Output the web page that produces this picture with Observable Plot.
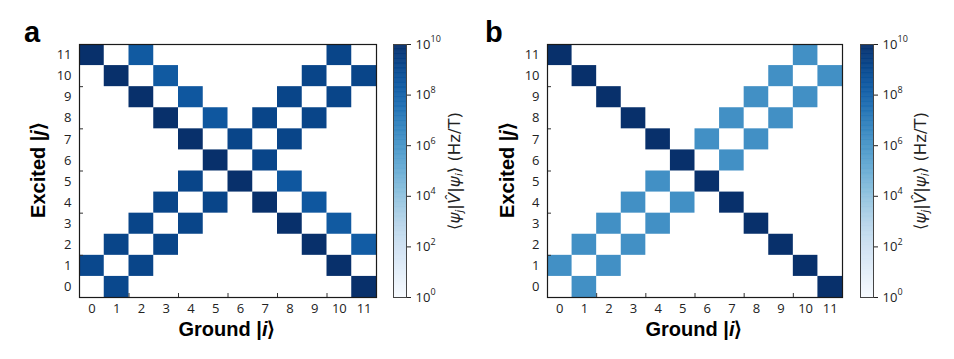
<!DOCTYPE html>
<html><head><meta charset="utf-8">
<script src="https://cdn.jsdelivr.net/npm/d3@7"></script>
<script src="https://cdn.jsdelivr.net/npm/@observablehq/plot@0.6"></script>
<style>
body{margin:0;background:#fff;}
#wrap{position:relative;width:954px;height:359px;overflow:hidden;background:#fff;}
#wrap > svg{position:absolute;top:0;}
</style></head><body><div id="wrap"></div>
<script>
// ---- data ----
const stateTicks = [0,1,2,3,4,5,6,7,8,9,10,11];
const stateLabels = ["0","1","2","3","4","5","6","7","8","9","10","11"];
const boundaryTicks = [1.5,3.5,5.5,7.5,9.5];
const colorbarTicks = [1e0,1e2,1e4,1e6,1e8,1e10];

// panel a: ground |i>, excited |j>, log10 of matrix element (Hz/T)
const aGround  = [0,2,10, 1,3,9,11, 2,4,8,10, 3,5,7,9, 4,6,8, 5,7, 4,6,8, 3,5,7,9, 2,4,8,10, 1,3,9,11, 0,2,10, 1,11];
const aExcited = [11,11,11, 10,10,10,10, 9,9,9,9, 8,8,8,8, 7,7,7, 6,6, 5,5,5, 4,4,4,4, 3,3,3,3, 2,2,2,2, 1,1,1, 0,0];
const aLog     = [10,8.4,9.2, 10,8.4,9.2,9.2, 10,8.5,9.2,9.2, 10,8.5,9.2,9.2, 10,9.2,9.2, 10,9.2, 9.2,10,8.5, 9.2,9.2,10,8.5, 9.2,9.2,10,8.4, 9.2,9.2,10,8.3, 9.1,9.2,10, 9.1,10];

// panel b
const bGround  = [0,10, 1,9,11, 2,8,10, 3,7,9, 4,6,8, 5,7, 4,6, 3,5,7, 2,4,8, 1,3,9, 0,2,10, 1,11];
const bExcited = [11,11, 10,10,10, 9,9,9, 8,8,8, 7,7,7, 6,6, 5,5, 4,4,4, 3,3,3, 2,2,2, 1,1,1, 0,0];
const bLog     = [10,6.3, 10,6.3,6.3, 10,6.3,6.3, 10,6.3,6.3, 10,6.3,6.3, 10,6.3, 6.3,10, 6.3,6.3,10, 6.3,6.3,10, 6.3,6.3,10, 6.3,6.3,10, 6.3,10];

const colorScale = {type: "log", domain: [1, 1e10], scheme: "blues"};
const wrap = document.getElementById("wrap");

function heatmap(ground, excited, logs, left, width, marginLeft, marginRight) {
  const data = ground.map((g, k) => ({i: g, j: excited[k], v: Math.pow(10, logs[k])}));
  const svg = Plot.plot({
    width, height: 359,
    marginLeft, marginRight, marginTop: 44, marginBottom: 62,
    style: {fontFamily: "'Open Sans', sans-serif", fontSize: "13px", color: "#222", background: "transparent"},
    x: {domain: [-0.5, 11.5], label: null},
    y: {domain: [-0.5, 11.5], label: null},
    color: colorScale,
    marks: [
      Plot.rect(data, {x1: d => d.i - 0.5, x2: d => d.i + 0.5, y1: d => d.j - 0.5, y2: d => d.j + 0.5, fill: "v"}),
      Plot.axisX(stateTicks, {tickSize: 0, tickPadding: 6, tickFormat: d => stateLabels[d], fontSize: 13}),
      Plot.axisY(stateTicks, {tickSize: 0, tickPadding: 8, tickFormat: d => stateLabels[d], fontSize: 13}),
      Plot.axisX(boundaryTicks, {tickSize: 4, dy: -4, tickFormat: () => "", stroke: "#333"}),
      Plot.axisY(boundaryTicks, {tickSize: 4, dx: 4, tickFormat: () => "", stroke: "#333"}),
      Plot.frame({stroke: "#1a1a1a", strokeWidth: 1.2})
    ]
  });
  svg.style.left = left + "px";
  wrap.appendChild(svg);
}

function colorbar(left, width) {
  const steps = d3.range(0, 10, 0.05);
  const svg = Plot.plot({
    width, height: 359,
    marginLeft: 13, marginRight: width - 26, marginTop: 44, marginBottom: 62,
    style: {fontFamily: "'Open Sans', sans-serif", color: "#222", background: "transparent", overflow: "visible"},
    x: {domain: [0, 1], axis: null},
    y: {type: "log", domain: [1, 1e10], axis: null},
    color: colorScale,
    marks: [
      Plot.rect(steps, {x1: 0, x2: 1, y1: e => Math.pow(10, e), y2: e => Math.pow(10, e + 0.05),
        fill: e => Math.pow(10, e + 0.025), stroke: e => Math.pow(10, e + 0.025), strokeWidth: 0.6, clip: true}),
      Plot.axisY(colorbarTicks, {anchor: "right", tickSize: 4, tickFormat: () => "", stroke: "#222"}),
      Plot.text(colorbarTicks, {x: 1, y: d => d, text: () => "10", dx: 9, textAnchor: "start", fontSize: 13, fill: "#222"}),
      Plot.text(colorbarTicks, {x: 1, y: d => d, text: d => String(Math.round(Math.log10(d))), dx: 24, dy: -5, textAnchor: "start", fontSize: 9, fill: "#222"}),
      Plot.frame({stroke: "#444", strokeWidth: 1})
    ]
  });
  svg.style.left = left + "px";
  wrap.appendChild(svg);
}

heatmap(aGround, aExcited, aLog, 0, 380, 79, 4);
colorbar(380, 100);
heatmap(bGround, bExcited, bLog, 480, 366, 67, 4);
colorbar(847, 107);

// ---- titles / labels overlay ----
const ov = d3.select(wrap).append("svg").attr("width", 954).attr("height", 359)
  .style("left", "0px").style("pointer-events", "none");
const bold = "'Liberation Sans', Arial, sans-serif";

function panelLabel(x, t) {
  ov.append("text").attr("x", x).attr("y", 42).attr("font-family", bold).attr("font-weight", "bold")
    .attr("font-size", 29).attr("fill", "#000").text(t);
}
panelLabel(24, "a");
panelLabel(485, "b");

function xTitle(cx) {
  const t = ov.append("text").attr("x", cx).attr("y", 336).attr("text-anchor", "middle")
    .attr("font-family", bold).attr("font-weight", "bold").attr("font-size", 20).attr("fill", "#000");
  t.append("tspan").text("Ground |");
  t.append("tspan").attr("font-style", "italic").text("i");
  t.append("tspan").text("⟩");
}
function yTitle(bx) {
  const t = ov.append("text").attr("transform", `translate(${bx},170) rotate(-90)`).attr("text-anchor", "middle")
    .attr("font-family", bold).attr("font-weight", "bold").attr("font-size", 20).attr("fill", "#000");
  t.append("tspan").text("Excited |");
  t.append("tspan").attr("font-style", "italic").text("j");
  t.append("tspan").text("⟩");
}
function cbTitle(bx) {
  const t = ov.append("text").attr("transform", `translate(${bx},171) rotate(-90)`).attr("text-anchor", "middle")
    .attr("font-family", "'DejaVu Sans', sans-serif").attr("font-size", 16.5).attr("fill", "#222");
  t.append("tspan").text("⟨");
  t.append("tspan").attr("font-style", "italic").text("ψ");
  t.append("tspan").attr("font-style", "italic").attr("font-size", 11).attr("dy", 3).text("j");
  t.append("tspan").attr("dy", -3).text("|");
  t.append("tspan").attr("font-style", "italic").text("V\u0302");
  t.append("tspan").text("|");
  t.append("tspan").attr("font-style", "italic").text("ψ");
  t.append("tspan").attr("font-style", "italic").attr("font-size", 11).attr("dy", 3).text("i");
  t.append("tspan").attr("dy", -3).text("⟩ (Hz/T)");
}
xTitle(227); xTitle(694);
yTitle(45); yTitle(514);
cbTitle(460); cbTitle(926);
</script></body></html>
